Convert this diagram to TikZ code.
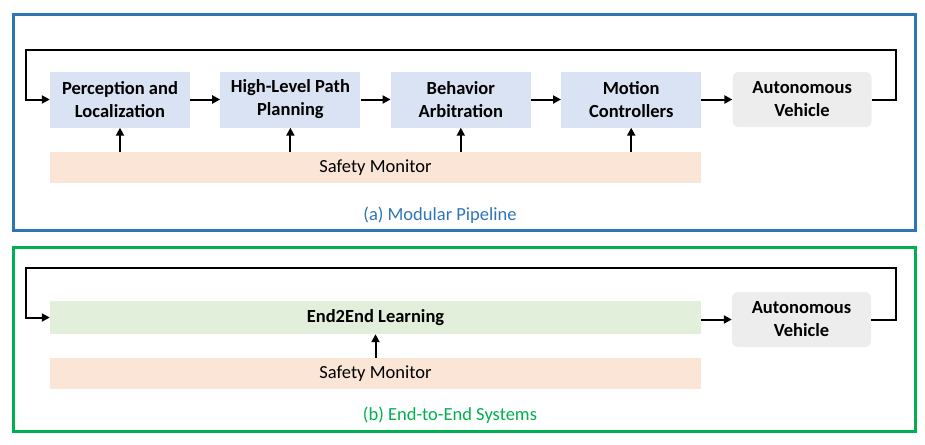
\documentclass[tikz,border=0pt]{standalone}
\usepackage{fontspec}
\setmainfont{Carlito}
\usepackage{xcolor}
\usepackage{tikz}
\usetikzlibrary{arrows.meta, positioning}
\definecolor{modblue}{HTML}{2E75B6}
\definecolor{e2egreen}{HTML}{00B050}
\definecolor{stagefill}{HTML}{DAE3F3}
\definecolor{carfill}{HTML}{EDEDED}
\definecolor{safefill}{HTML}{FBE5D6}
\definecolor{learnfill}{HTML}{E2EFDA}
\tikzset{
  stage/.style={rectangle, fill=stagefill, align=center, font=\fontsize{18.5}{23}\selectfont\bfseries, minimum width=140pt, minimum height=56pt, inner sep=2pt},
  car/.style={rectangle, rounded corners=6pt, fill=carfill, align=center, font=\fontsize{18.5}{23}\selectfont\bfseries, minimum width=139pt, minimum height=55pt, inner sep=2pt},
  monitor/.style={rectangle, fill=safefill, font=\fontsize{18.5}{23}\selectfont, minimum width=651pt, minimum height=31pt, inner sep=0pt},
  learner/.style={rectangle, fill=learnfill, font=\fontsize{18.5}{23}\selectfont\bfseries, minimum width=651pt, minimum height=33pt, inner sep=0pt},
  frame/.style={line width=3pt},
  caption/.style={font=\fontsize{18.5}{23}\selectfont},
  arr/.style={-{Triangle[length=8pt, width=8pt]}, line width=2pt, black},
}
\begin{document}
\begin{tikzpicture}[x=1pt, y=-1pt, node distance=30pt]
\useasboundingbox (0,0) rectangle (925,444);
% (a) modular pipeline
\draw[frame, modblue] (13,15) rectangle (915,230);
\node[stage] (perc) at (120,99.5) {Perception and\\Localization};
\node[stage, right=30pt of perc] (hlp) {High-Level Path\\Planning};
\node[stage, right=30pt of hlp] (beh) {Behavior\\Arbitration};
\node[stage, right=30pt of beh] (mot) {Motion\\Controllers};
\node[car, right=31pt of mot] (av) {Autonomous\\Vehicle};
\node[monitor] (safe) at (375.5,167.5) {Safety Monitor};
\node[caption, text=modblue] (capa) at (440,215) {(a) Modular Pipeline};
\draw[arr] (perc) -- (hlp);
\draw[arr] (hlp) -- (beh);
\draw[arr] (beh) -- (mot);
\draw[arr] (mot) -- (av);
\coordinate (loopaR) at (896,50);
\coordinate (loopaL) at (26,50);
\draw[arr] (av.east) -| (loopaR) -- (loopaL) |- (perc.west);
\foreach \b in {perc,hlp,beh,mot}
  \draw[arr] (\b.south |- safe.north) -- (\b.south);
% (b) end-to-end
\draw[frame, e2egreen] (13,247) rectangle (915,431);
\node[learner] (e2e) at (375.5,317.5) {End2End Learning};
\node[car] (av2) at (801.5,319.5) {Autonomous\\Vehicle};
\node[monitor] (safe2) at (375.5,373.5) {Safety Monitor};
\node[caption, text=e2egreen] (capb) at (450,415) {(b) End-to-End Systems};
\draw[arr] (e2e.east |- av2.west) -- (av2.west);
\coordinate (loopbR) at (896,268);
\coordinate (loopbL) at (26,268);
\draw[arr] (av2.east) -| (loopbR) -- (loopbL) |- (e2e.west);
\draw[arr] (safe2.north) -- (e2e.south);
\end{tikzpicture}
\end{document}
